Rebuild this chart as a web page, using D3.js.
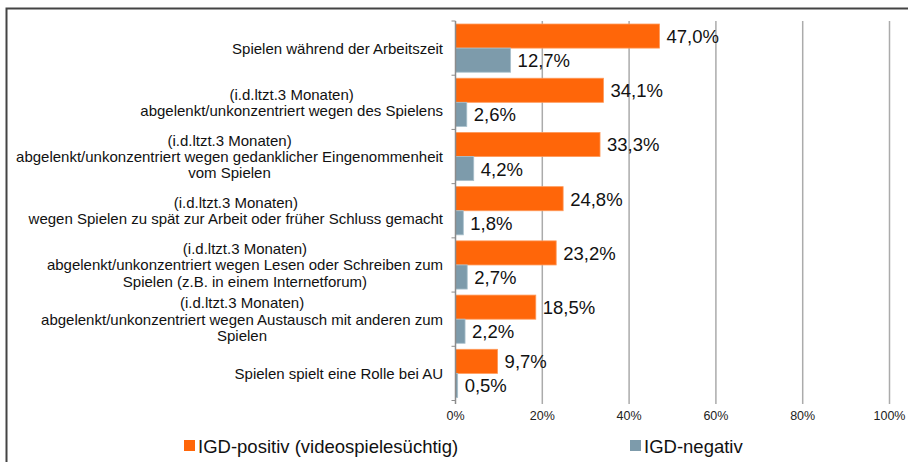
<!DOCTYPE html>
<html>
<head>
<meta charset="utf-8">
<script src="https://cdn.jsdelivr.net/npm/d3@7"></script>
<style>
  html, body { margin: 0; padding: 0; background: #fff; }
  svg { display: block; font-family: "Liberation Sans", Arial, sans-serif; }
</style>
</head>
<body>
<svg id="chart" width="908" height="462"></svg>
<script>
// Category labels, one array of text lines per category
const categories = [
  ["Spielen während der Arbeitszeit"],
  ["(i.d.ltzt.3 Monaten)", "abgelenkt/unkonzentriert wegen des Spielens"],
  ["(i.d.ltzt.3 Monaten)", "abgelenkt/unkonzentriert wegen gedanklicher Eingenommenheit", "vom Spielen"],
  ["(i.d.ltzt.3 Monaten)", "wegen Spielen zu spät zur Arbeit oder früher Schluss gemacht"],
  ["(i.d.ltzt.3 Monaten)", "abgelenkt/unkonzentriert wegen Lesen oder Schreiben zum", "Spielen (z.B. in einem Internetforum)"],
  ["(i.d.ltzt.3 Monaten)", "abgelenkt/unkonzentriert wegen Austausch mit anderen zum", "Spielen"],
  ["Spielen spielt eine Rolle bei AU"]
];

const seriesNames = ["IGD-positiv (videospielesüchtig)", "IGD-negativ"];
const igdPositive = [47.0, 34.1, 33.3, 24.8, 23.2, 18.5, 9.7];
const igdNegative = [12.7, 2.6, 4.2, 1.8, 2.7, 2.2, 0.5];
const xTicks = [0, 20, 40, 60, 80, 100];

const colors = ["#FF6609", "#7D9BAB"];
const strokes = ["#FF9A5A", "#A9C0CC"];

const svg = d3.select("#chart");

// Outer frame (top and left edges)
svg.append("path")
  .attr("d", "M6.5,462 V8.5 H908")
  .attr("fill", "none")
  .attr("stroke", "#444")
  .attr("stroke-width", 2);

const plot = { left: 455.5, right: 889.5, top: 21, bottom: 400.5 };

const x = d3.scaleLinear().domain([0, 100]).range([plot.left, plot.right]);
const y = d3.scaleBand().domain(d3.range(categories.length))
  .range([plot.top, plot.bottom]).paddingInner(0).paddingOuter(0);
const inner = d3.scaleBand().domain([0, 1])
  .range([0, y.bandwidth()]).paddingOuter(0.125).paddingInner(0);

// Vertical gridlines
const grid = svg.append("g");
grid.selectAll("line").data(xTicks.slice(1)).join("line")
  .attr("x1", d => x(d)).attr("x2", d => x(d))
  .attr("y1", plot.top).attr("y2", plot.bottom + 3.5)
  .attr("stroke", "#ababab").attr("stroke-width", 1.5);

// Bars
const fmt = v => d3.format(".1f")(v).replace(".", ",") + "%";
const series = [igdPositive, igdNegative];
series.forEach((vals, s) => {
  const g = svg.append("g");
  g.selectAll("rect").data(vals).join("rect")
    .attr("x", x(0))
    .attr("y", (d, i) => y(i) + inner(s))
    .attr("width", d => x(d) - x(0))
    .attr("height", inner.bandwidth())
    .attr("fill", colors[s])
    .attr("stroke", strokes[s])
    .attr("stroke-width", 0.8);
  g.selectAll("text").data(vals).join("text")
    .attr("x", d => x(d) + 7)
    .attr("y", (d, i) => y(i) + inner(s) + inner.bandwidth() / 2 + 7)
    .attr("font-size", 18.5)
    .attr("fill", "#111")
    .text(fmt);
});

// Category axis line with ticks on the left
const yAxisG = svg.append("g");
yAxisG.append("line")
  .attr("x1", plot.left).attr("x2", plot.left)
  .attr("y1", plot.top).attr("y2", plot.bottom + 3.5)
  .attr("stroke", "#8c8c8c").attr("stroke-width", 1.5);
yAxisG.selectAll("line.tick").data(d3.range(categories.length + 1)).join("line")
  .attr("class", "tick")
  .attr("x1", plot.left - 4).attr("x2", plot.left)
  .attr("y1", i => plot.top + i * y.step()).attr("y2", i => plot.top + i * y.step())
  .attr("stroke", "#8c8c8c").attr("stroke-width", 1);

// X tick labels
svg.append("g").selectAll("text").data(xTicks).join("text")
  .attr("x", d => x(d))
  .attr("y", 420)
  .attr("text-anchor", "middle")
  .attr("font-size", 12.5)
  .attr("fill", "#222")
  .text(d => d + "%");

// Category labels: centred lines, block right-aligned to the axis
const labelRight = 443;
const lineH = 16.4;
const fs = 15;
categories.forEach((lines, i) => {
  const g = svg.append("g");
  const texts = lines.map(t => g.append("text").attr("font-size", fs).attr("fill", "#111").text(t));
  const maxW = d3.max(texts, t => t.node().getComputedTextLength());
  const cx = labelRight - maxW / 2;
  const cy = y(i) + y.bandwidth() / 2;
  const firstBase = cy - (lines.length - 1) * lineH / 2 + fs * 0.36;
  texts.forEach((t, k) => {
    t.attr("x", cx).attr("text-anchor", "middle").attr("y", firstBase + k * lineH);
  });
});

// Legend
const legend = [
  { x: 184, name: seriesNames[0], color: colors[0] },
  { x: 630, name: seriesNames[1], color: colors[1] }
];
const lg = svg.append("g");
legend.forEach(d => {
  lg.append("rect").attr("x", d.x).attr("y", 440).attr("width", 11).attr("height", 11).attr("fill", d.color);
  lg.append("text").attr("x", d.x + 14).attr("y", 453).attr("font-size", 18.5).attr("fill", "#111").text(d.name);
});
</script>
</body>
</html>
